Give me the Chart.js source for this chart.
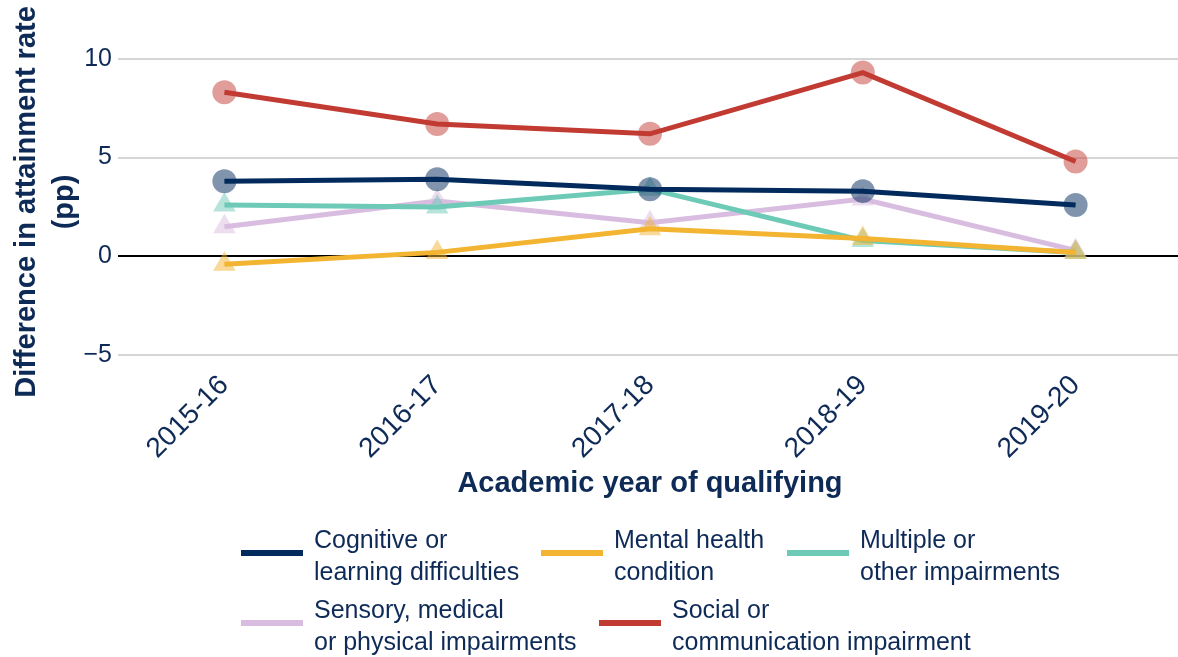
<!DOCTYPE html>
<html>
<head>
<meta charset="utf-8">
<script src="https://cdn.jsdelivr.net/npm/chart.js@4"></script>
<style>
  body { margin: 0; background: #fff; font-family: "Liberation Sans", Arial, sans-serif; }
  #wrap { position: relative; width: 1178px; height: 657px; overflow: hidden; }
  canvas { position: absolute; left: 0; top: 0; }
  .leg { position: absolute; font-size: 25px; line-height: 32px; color: #0e2a57; white-space: nowrap; }
  .leg i { position: absolute; left: -73px; top: 27px; width: 62px; height: 6px; }
</style>
</head>
<body>
<div id="wrap">
  <canvas id="chart" width="1195" height="657"></canvas>
  <div id="legend"></div>
</div>
<script>
// categorias e séries
const anos = ['2015-16', '2016-17', '2017-18', '2018-19', '2019-20'];
const cognitivo = [3.8, 3.9, 3.4, 3.3, 2.6];
const saudeMental = [-0.4, 0.2, 1.4, 0.9, 0.2];
const multiplas = [2.6, 2.5, 3.4, 0.8, 0.2];
const sensorial = [1.5, 2.8, 1.7, 2.9, 0.3];
const social = [8.3, 6.7, 6.2, 9.3, 4.8];
const ticksY = [-5, 0, 5, 10];

const navy = '#0e2a57';
const series = [
  { nome: ['Cognitive or', 'learning difficulties'], dados: cognitivo, cor: '#022a5c', marca: 'circle', leg: [314, 523] },
  { nome: ['Mental health', 'condition'], dados: saudeMental, cor: '#f2b431', marca: 'triangle', leg: [614, 523] },
  { nome: ['Multiple or', 'other impairments'], dados: multiplas, cor: '#6dcab7', marca: 'triangle', leg: [860, 523] },
  { nome: ['Sensory, medical', 'or physical impairments'], dados: sensorial, cor: '#d9bde0', marca: 'triangle', leg: [314, 593] },
  { nome: ['Social or', 'communication impairment'], dados: social, cor: '#c13b33', marca: 'circle', leg: [672, 593] }
];

function alfa(hex, a) {
  const n = parseInt(hex.slice(1), 16);
  return `rgba(${n >> 16},${(n >> 8) & 255},${n & 255},${a})`;
}

// Legenda em HTML
document.getElementById('legend').innerHTML = series.map(s =>
  `<div class="leg" style="left:${s.leg[0]}px;top:${s.leg[1]}px"><i style="background:${s.cor}"></i>${s.nome.join('<br>')}</div>`
).join('');

const familia = '"Liberation Sans", Arial, sans-serif';

new Chart(document.getElementById('chart'), {
  type: 'line',
  data: {
    labels: anos,
    datasets: series.map(s => ({
      label: s.nome.join(' '),
      data: s.dados,
      borderColor: s.cor,
      borderWidth: 5,
      pointStyle: s.marca,
      pointRadius: s.marca === 'circle' ? 12 : 13,
      pointBackgroundColor: alfa(s.cor, 0.5),
      pointBorderWidth: 0,
      tension: 0
    }))
  },
  options: {
    responsive: false,
    animation: false,
    layout: { padding: { top: 39, left: 0, right: 0, bottom: 152 } },
    plugins: { legend: { display: false }, tooltip: { enabled: false } },
    scales: {
      x: {
        offset: true,
        grid: { display: false, drawTicks: false },
        border: { display: false },
        ticks: { color: navy, font: { family: familia, size: 28 }, minRotation: 45, maxRotation: 45, padding: 4 },
        title: { display: true, text: 'Academic year of qualifying', color: navy, font: { family: familia, size: 29, weight: 'bold' } },
        afterFit: sc => { sc.height = 140; }
      },
      y: {
        min: -5.5,
        max: 11,
        afterBuildTicks: sc => { sc.ticks = ticksY.map(v => ({ value: v })); },
        grid: {
          drawTicks: false,
          lineWidth: 2,
          color: ctx => ctx.tick && ctx.tick.value === 0 ? '#000' : '#d6d6d6'
        },
        border: { display: false },
        ticks: {
          color: navy, font: { family: familia, size: 25 }, padding: 6,
          callback: v => String(v).replace('-', '\u2212')
        },
        title: {
          display: true,
          text: ['Difference in attainment rate', '(pp)'],
          color: navy,
          font: { family: familia, size: 29, weight: 'bold', lineHeight: 1.3 },
          padding: { top: 8, bottom: 0 }
        },
        afterFit: sc => { sc.width = 118; }
      }
    }
  }
});
</script>
</body>
</html>
